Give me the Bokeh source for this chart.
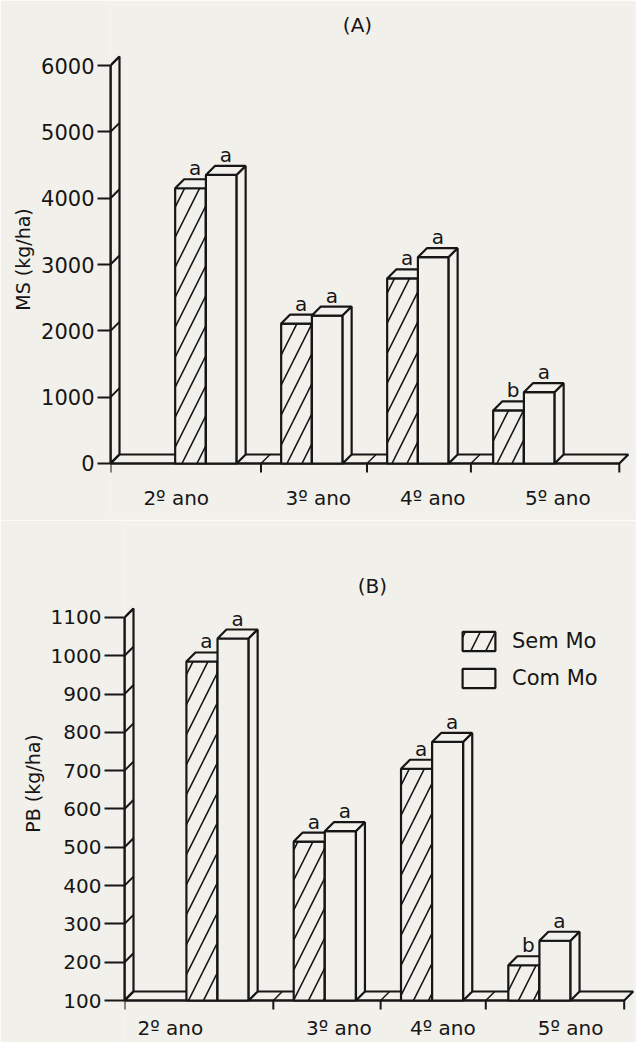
from bokeh.plotting import figure
from bokeh.models import ColumnDataSource, FixedTicker, Label, Legend, LegendItem, Range1d
from bokeh.core.properties import value
from bokeh.embed import file_html
from bokeh.resources import INLINE

# ---------------- data ----------------
years = ["2º ano", "3º ano", "4º ano", "5º ano"]
series = ["Sem Mo", "Com Mo"]

ms_sem = [4150, 2110, 2790, 800]
ms_com = [4350, 2230, 3110, 1075]
ms_sem_sig = ["a", "a", "a", "b"]
ms_com_sig = ["a", "a", "a", "a"]

pb_sem = [985, 515, 705, 192]
pb_com = [1045, 542, 775, 256]
pb_sem_sig = ["a", "a", "a", "b"]
pb_com_sig = ["a", "a", "a", "a"]

ms_ticks = [0, 1000, 2000, 3000, 4000, 5000, 6000]
pb_ticks = [100, 200, 300, 400, 500, 600, 700, 800, 900, 1000, 1100]

# ---------------- style / layout ----------------
PAPER = "#f2f0eb"
INK = "#161616"
FONT = "DejaVu Sans"
DEPTH = 9          # px, pseudo-3D depth
BAR_W = 0.29       # width of one bar in group units
BOUNDARIES = [0.52, 1.52, 2.5]
FIG_W = 636


def panel(title, ylabel, sem, com, sem_sig, com_sig, ticks,
          x_start, px_per_unit, y_start, y_end, frame_h,
          border_left, border_top, border_bottom, floor_end,
          tick_out, tick_font, label_pos, label_drop, title_pos,
          with_legend=False, legend_loc=(0, 0)):
    frame_w = FIG_W - border_left - 2
    x_end = x_start + frame_w / px_per_unit
    p = figure(width=FIG_W, height=border_top + frame_h + border_bottom,
               frame_width=frame_w, frame_height=frame_h,
               x_range=Range1d(x_start, x_end), y_range=Range1d(y_start, y_end),
               x_axis_location=None, toolbar_location=None, output_backend="svg",
               min_border_left=border_left, min_border_right=2,
               min_border_top=border_top, min_border_bottom=border_bottom)
    p.background_fill_color = PAPER
    p.border_fill_color = PAPER
    p.outline_line_color = None
    p.grid.visible = False

    ppx = frame_w / (x_end - x_start)
    ppy = frame_h / (y_end - y_start)
    dx = DEPTH / ppx
    dy = DEPTH / ppy
    base = ticks[0]
    top = ticks[-1]
    x0 = x_start

    # y axis
    ax = p.yaxis[0]
    ax.ticker = FixedTicker(ticks=ticks)
    ax.bounds = (base, top)
    ax.axis_line_width = 2.2
    ax.axis_line_color = INK
    ax.major_tick_line_width = 2.2
    ax.major_tick_line_color = INK
    ax.major_tick_in = 0
    ax.major_tick_out = tick_out
    ax.minor_tick_line_color = None
    ax.major_label_standoff = 3
    ax.major_label_text_font = FONT
    ax.major_label_text_font_size = tick_font
    ax.major_label_text_color = INK
    ax.axis_label = ylabel
    ax.axis_label_text_font = FONT
    ax.axis_label_text_font_size = "19px"
    ax.axis_label_text_font_style = "normal"
    ax.axis_label_text_color = INK
    ax.axis_label_standoff = 4

    # back wall along y axis and floor
    p.patches(xs=[[x0, x0, x0 + dx, x0 + dx], [x0, floor_end, floor_end + dx, x0 + dx]],
              ys=[[base, top, top + dy, base + dy], [base, base, base + dy, base + dy]],
              fill_color=PAPER, line_color=INK, line_width=2.2)
    # diagonal tick marks on the wall
    p.segment(x0=[x0] * len(ticks), y0=ticks, x1=[x0 + dx] * len(ticks),
              y1=[t + dy for t in ticks], line_color=INK, line_width=2)
    # x axis: baseline, ticks and floor diagonals
    xt = [x0] + BOUNDARIES + [floor_end]
    tick_len = 9 / ppy
    p.segment(x0=[x0 - 6 / ppx], y0=[base], x1=[floor_end], y1=[base], line_color=INK, line_width=2.2)
    p.segment(x0=xt, y0=[base] * len(xt), x1=xt, y1=[base - tick_len] * len(xt),
              line_color=INK, line_width=2)
    p.segment(x0=BOUNDARIES, y0=[base] * 3, x1=[b + dx for b in BOUNDARIES], y1=[base + dy] * 3,
              line_color=INK, line_width=1.5)

    renderers = []
    for k, vals in enumerate([sem, com]):
        xs, ys, hatch = [], [], []
        for i, v in enumerate(vals):
            xl = i - BAR_W if k == 0 else i
            xr = xl + BAR_W
            xs += [[xl, xr, xr, xl], [xl, xr, xr + dx, xl + dx], [xr, xr + dx, xr + dx, xr]]
            ys += [[base, base, v, v], [v, v, v + dy, v + dy], [base, base + dy, v + dy, v]]
            hatch += ["/" if k == 0 else " ", " ", " "]
        src = ColumnDataSource(dict(xs=xs, ys=ys, hatch=hatch))
        r = p.patches(xs="xs", ys="ys", source=src, fill_color=PAPER, line_color=INK,
                      line_width=2.2, hatch_pattern="hatch", hatch_color=INK,
                      hatch_weight=1.6, hatch_scale=30)
        renderers.append(r)

    # significance letters
    lx, ly, lt = [], [], []
    for k, (vals, sig) in enumerate([(sem, sem_sig), (com, com_sig)]):
        for i, v in enumerate(vals):
            xl = i - BAR_W if k == 0 else i
            lx.append(xl + BAR_W / 2 + dx / 2)
            ly.append(v + dy + 11 / ppy)
            lt.append(sig[i])
    p.text(x=lx, y=ly, text=lt, text_align="center", text_baseline="alphabetic",
           text_font=value(FONT), text_font_size="20px", text_color=INK)

    # category labels
    p.text(x=label_pos, y=[base - label_drop / ppy] * len(years), text=years,
           text_align="center", text_baseline="middle",
           text_font=value(FONT), text_font_size="20px", text_color=INK)

    # panel title
    p.add_layout(Label(x=title_pos[0], y=base + title_pos[1] / ppy, text=title,
                       text_align="center", text_baseline="middle",
                       text_font=FONT, text_font_size="20px", text_color=INK))

    if with_legend:
        legend = Legend(items=[LegendItem(label=series[0], renderers=[renderers[0]], index=0),
                               LegendItem(label=series[1], renderers=[renderers[1]], index=0)],
                        location=legend_loc, orientation="vertical",
                        glyph_width=41, glyph_height=24, label_standoff=13, spacing=13,
                        padding=0, margin=0, border_line_color=None,
                        background_fill_alpha=0, label_text_font=FONT,
                        label_text_font_size="21px", label_text_color=INK)
        p.add_layout(legend)
    return p


# panel A: baseline at y=463, 66.33 px per 1000, frame y 4..514
pA = panel("(A)", "MS (kg/ha)", ms_sem, ms_com, ms_sem_sig, ms_com_sig, ms_ticks,
           x_start=-0.9, px_per_unit=106.0, y_start=-769, y_end=6920, frame_h=510,
           border_left=110, border_top=4, border_bottom=6, floor_end=3.9,
           tick_out=13, tick_font="21px",
           label_pos=[-0.28, 1.06, 2.14, 3.32], label_drop=35,
           title_pos=(1.43, 438))

# panel B: baseline (100) at y=1000, 38.33 px per 100, frame y 524..1042
pB = panel("(B)", "PB (kg/ha)", pb_sem, pb_com, pb_sem_sig, pb_com_sig, pb_ticks,
           x_start=-0.867, px_per_unit=107.3, y_start=-9.6, y_end=1342.6, frame_h=518,
           border_left=124, border_top=4, border_bottom=0, floor_end=3.79,
           tick_out=20, tick_font="20px",
           label_pos=[-0.44, 1.13, 2.10, 3.29], label_drop=27,
           title_pos=(1.444, 415), with_legend=True, legend_loc=(334, 352))

# two independent roots so the plot frames are not aligned to each other
open("out.html", "w").write(file_html([pA, pB], INLINE))
